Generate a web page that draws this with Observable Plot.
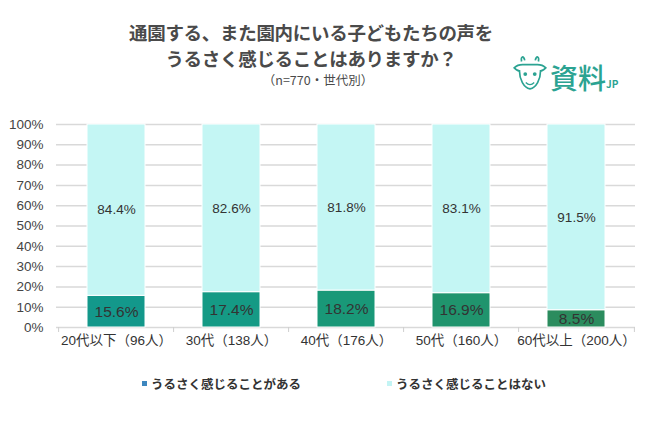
<!DOCTYPE html>
<html><head><meta charset="utf-8">
<script src="https://cdn.jsdelivr.net/npm/d3@7"></script>
<script src="https://cdn.jsdelivr.net/npm/@observablehq/plot@0.6"></script>
<style>
body{margin:0;background:#fff;font-family:"Noto Sans CJK JP","Noto Sans",sans-serif;}
#wrap{position:relative;width:650px;height:432px;overflow:hidden;background:#fff}
#title{position:absolute;top:19px;left:0;width:622px;text-align:center;font-weight:bold;font-size:18.5px;line-height:26px;color:#4a4a4a;letter-spacing:-0.3px}
#sub{position:absolute;top:70px;left:0;width:636px;text-align:center;font-size:12.5px;color:#4a4a4a}
#chart{position:absolute;top:110px;left:0}
#logo{position:absolute;top:52px;left:512px;display:flex;align-items:flex-end;color:#2ba392}
#logo .t{font-size:28px;line-height:30px;font-weight:500;margin-left:2px}
#logo .jp{font-size:10px;font-weight:bold;line-height:12px;margin-bottom:2px}
#legend{position:absolute;top:374px;left:0;width:650px;font-size:12.5px;font-weight:bold;color:#333}
.li{position:absolute;display:flex;align-items:center;white-space:nowrap}
.sw{width:5px;height:5px;margin-right:4px}
</style></head>
<body>
<div id="wrap">
  <div id="title">通園する、また園内にいる子どもたちの声を<br>うるさく感じることはありますか？</div>
  <div id="sub">（n=770・世代別）</div>
  <div id="logo">
    <svg width="36" height="40" viewBox="0 0 34 38">
      <path d="M9 9 C8 4 11 3 12 8 M22 8 C23 3 26 4 25 9" fill="none" stroke="#2ba392" stroke-width="1.6"/>
      <path d="M2 15 C5 12 8 12 10 12 L24 12 C26 12 29 12 32 15 C30 17 28 18 27 18 C27 26 23 34 17 35 C11 34 7 26 7 18 C6 18 4 17 2 15 Z" fill="none" stroke="#2ba392" stroke-width="1.6"/>
      <circle cx="12.5" cy="21" r="1.8" fill="#2ba392"/>
      <circle cx="21.5" cy="21" r="1.8" fill="#2ba392"/>
      <path d="M13 29 Q17 33 21 29" fill="none" stroke="#2ba392" stroke-width="1.3"/>
    </svg>
    <span class="t">資料</span><span class="jp">JP</span>
  </div>
  <div id="chart"></div>
  <div id="legend">
    <div class="li" style="left:142px"><span class="sw" style="background:#3d87bf"></span>うるさく感じることがある</div>
    <div class="li" style="left:387px"><span class="sw" style="background:#c3f4f4"></span>うるさく感じることはない</div>
  </div>
</div>
<script>
const categories = ["20代以下（96人）", "30代（138人）", "40代（176人）", "50代（160人）", "60代以上（200人）"];
const noisy = [15.6, 17.4, 18.2, 16.9, 8.5];
const notNoisy = [84.4, 82.6, 81.8, 83.1, 91.5];
const yTicks = [0, 10, 20, 30, 40, 50, 60, 70, 80, 90, 100];
const darkColors = ["#13988b", "#159a85", "#199878", "#20946d", "#2b8c5e"];
const lightColor = "#c4f6f4";

const rows = categories.map((cat, i) => ({cat, i, dark: noisy[i], light: notNoisy[i]}));

const W = 650, ML = 56, MR = 15;
const PI = 0.5, PO = 0.25;
const step = (W - ML - MR) / (5 - PI + 2 * PO);

const plot = Plot.plot({
  width: W, height: 247,
  marginTop: 14, marginBottom: 30, marginLeft: ML, marginRight: MR,
  style: {fontFamily: '"Liberation Sans","Noto Sans CJK JP",sans-serif', background: "transparent"},
  x: {domain: categories, paddingInner: PI, paddingOuter: PO, label: null, tickSize: 0, tickPadding: 8},
  y: {domain: [0, 100], label: null, ticks: yTicks, tickFormat: d => d + "%", tickSize: 0, tickPadding: 13},
  marks: [
    Plot.ruleY(yTicks, {stroke: "#d9d9d9", strokeWidth: 1.5}),
    Plot.ruleX(categories, {x: d => d, y1: 0, y2: 0, insetBottom: -5, dx: -step / 2, stroke: "#cfcfcf"}),
    Plot.ruleX([categories[categories.length - 1]], {x: d => d, y1: 0, y2: 0, insetBottom: -5, dx: step / 2, stroke: "#cfcfcf"}),
    Plot.barY(rows, {x: "cat", y1: 0, y2: "dark", fill: d => darkColors[d.i], stroke: "#fff", strokeWidth: 1}),
    Plot.barY(rows, {x: "cat", y1: "dark", y2: 100, fill: lightColor, stroke: "#fff", strokeWidth: 1}),
    Plot.text(rows, {x: "cat", y: d => d.dark / 2, text: d => d.dark.toFixed(1) + "%", fontSize: 15.5, fill: "#333"}),
    Plot.text(rows, {x: "cat", y: d => d.dark + d.light / 2, text: d => d.light.toFixed(1) + "%", fontSize: 13.5, fill: "#333"}),
    Plot.axisY({ticks: yTicks, tickFormat: d => d + "%", tickSize: 0, tickPadding: 13, fontSize: 13.5, fill: "#444", label: null}),
    Plot.axisX({tickSize: 0, tickPadding: 8, fontSize: 13.5, fill: "#333", label: null})
  ]
});
document.getElementById("chart").appendChild(plot);
</script>
</body></html>
